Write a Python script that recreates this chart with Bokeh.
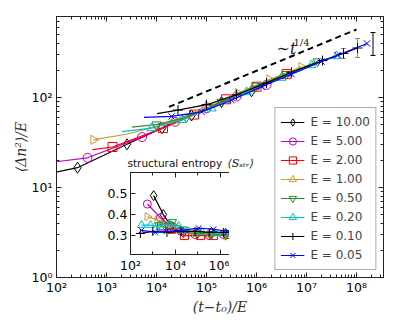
import numpy as np
from bokeh.plotting import figure
from bokeh.models import (ColumnDataSource, Legend, LegendItem, LogAxis, LinearAxis, Label,
                          Whisker, TeeHead, FixedTicker, LogTicker, CustomJSTickFormatter,
                          CDSView, IndexFilter)
from bokeh.layouts import column
from bokeh.embed import file_html
from bokeh.resources import INLINE

# ---------------- data (log10 values) ----------------
labels = ["E = 10.00", "E = 5.00", "E = 2.00", "E = 1.00", "E = 0.50", "E = 0.20", "E = 0.10", "E = 0.05"]

# main panel: log10((t-t0)/E) and log10(<dn^2>/E)
m_lgx = [
    [1.9, 2.42, 3.41, 4.11, 4.7, 5.3, 5.9],
    [1.9, 2.62, 3.71, 4.37, 5.0, 5.6, 6.2],
    [2.72, 3.12, 4.13, 4.75, 5.39, 6.0, 6.6],
    [2.74, 3.47, 4.37, 5.03, 5.63, 6.26, 6.9],
    [3.51, 4.0, 4.6, 5.3, 6.0, 6.6, 7.22],
    [3.31, 3.9, 4.5, 5.1, 5.8, 6.5, 7.1, 7.6],
    [4.01, 4.43, 5.0, 5.6, 6.2, 6.7, 7.32, 7.74, 8.02],
    [3.75, 4.3, 4.9, 5.5, 6.1, 6.7, 7.3, 7.62, 8.21],
]
m_lgy = [
    [1.16, 1.22, 1.48, 1.66, 1.80, 1.95, 2.07],
    [1.28, 1.33, 1.56, 1.73, 1.88, 2.01, 2.14],
    [1.42, 1.45, 1.66, 1.81, 1.98, 2.12, 2.26],
    [1.53, 1.60, 1.74, 1.91, 2.05, 2.20, 2.34],
    [1.67, 1.70, 1.78, 1.95, 2.13, 2.26, 2.40],
    [1.62, 1.66, 1.75, 1.88, 2.06, 2.22, 2.36, 2.46],
    [1.82, 1.86, 1.92, 2.03, 2.16, 2.28, 2.41, 2.49, 2.55],
    [1.78, 1.79, 1.84, 1.97, 2.12, 2.26, 2.40, 2.47, 2.60],
]
# which points carry a marker
m_mark = [
    [1, 2, 3, 4, 5, 6],
    [1, 2, 3, 4, 5, 6],
    [1, 2, 3, 4, 5, 6],
    [0, 2, 3, 4, 5, 6],
    [1, 2, 3, 4, 5, 6],
    [1, 2, 3, 4, 5, 6, 7],
    [1, 2, 3, 4, 5, 6, 7, 8],
    [1, 2, 3, 4, 5, 6, 7, 8],
]

# error bars (log10 x, log10 low, log10 high)
eb_gray_lgx = [7.74, 8.02]
eb_gray_lo = [2.433, 2.444]
eb_gray_hi = [2.544, 2.656]
eb_blk_lgx = [8.33]
eb_blk_lo = [2.467]
eb_blk_hi = [2.722]

# t^(1/4) guide
guide_lgx = [4.25, 8.0]
guide_lgy = [1.895, 2.756]

# inset: structural entropy (log10 of time, entropy)
i_lgx = [
    [3.03, 3.46, 3.88, 4.35, 4.98, 5.60, 6.23, 6.96],
    [2.75, 3.33, 3.72, 4.25, 4.87, 5.50, 6.13, 6.86],
    [3.38, 3.83, 4.40, 5.11, 5.69, 6.34, 6.93],
    [2.75, 3.20, 3.72, 4.25, 4.87, 5.50, 6.23, 6.86],
    [3.25, 3.87, 4.35, 4.98, 5.60, 6.23, 6.96],
    [2.49, 2.89, 3.31, 3.72, 4.14, 4.56, 5.19, 5.81, 6.44, 6.96],
    [2.44, 2.99, 3.62, 4.25, 4.87, 5.50, 6.13, 6.96],
    [2.49, 3.10, 3.60, 4.25, 5.03, 5.69, 6.34, 6.93],
]
i_y = [
    [0.49, 0.40, 0.335, 0.315, 0.31, 0.315, 0.31, 0.31],
    [0.45, 0.385, 0.35, 0.32, 0.305, 0.30, 0.305, 0.30],
    [0.345, 0.33, 0.30, 0.30, 0.30, 0.305, 0.30],
    [0.39, 0.375, 0.35, 0.33, 0.31, 0.305, 0.30, 0.30],
    [0.35, 0.365, 0.33, 0.31, 0.305, 0.30, 0.30],
    [0.35, 0.35, 0.34, 0.355, 0.345, 0.32, 0.315, 0.31, 0.31, 0.31],
    [0.31, 0.32, 0.315, 0.32, 0.32, 0.315, 0.315, 0.315],
    [0.325, 0.315, 0.32, 0.325, 0.335, 0.33, 0.32, 0.32],
]

# ---------------- styles ----------------
colors = ["#000000", "#c000c0", "#ff0000", "#cc9933", "#1f8f1f", "#00bfbf", "#000000", "#0000ff"]
mtypes = ["diamond", "circle", "square", "triangle", "inverted_triangle", "triangle", "cross", "x"]
angles = [0, 0, 0, -np.pi / 2, 0, 0, 0, 0]
msizes = [11, 9, 9, 9, 9, 9, 10, 9]

sup_js = """
const sup = {"-":"\u207b","0":"\u2070","1":"\u00b9","2":"\u00b2","3":"\u00b3","4":"\u2074","5":"\u2075","6":"\u2076","7":"\u2077","8":"\u2078","9":"\u2079"};
const e = Math.round(Math.log10(tick));
return "10" + String(e).split("").map(c => sup[c]).join("");
"""
blank_js = "return '';"

TICK_FONT = "DejaVu Sans"


def style_axis(ax, labels_on=True, size="12.5px"):
    ax.major_tick_in = 5
    ax.major_tick_out = 0
    ax.minor_tick_in = 3
    ax.minor_tick_out = 0
    ax.axis_line_color = "#222222"
    ax.major_tick_line_color = "#222222"
    ax.minor_tick_line_color = "#222222"
    ax.major_label_text_font = TICK_FONT
    ax.major_label_text_font_size = size
    ax.major_label_text_color = "#000000"
    if not labels_on:
        ax.major_label_standoff = 0


# ---------------- main figure ----------------
p = figure(width=399, height=327, x_axis_type="log", y_axis_type="log",
           x_range=(1e2, 10 ** 8.54), y_range=(1.0, 10 ** 2.9),
           output_backend="svg", toolbar_location=None,
           min_border_left=56, min_border_right=16, min_border_top=16, min_border_bottom=50)
p.xgrid.visible = False
p.ygrid.visible = False
p.outline_line_color = "#222222"
p.background_fill_color = "white"
p.border_fill_color = "white"

for ax in (p.xaxis[0], p.yaxis[0]):
    style_axis(ax)
    ax.ticker = LogTicker(num_minor_ticks=10)
    ax.formatter = CustomJSTickFormatter(code=sup_js)
p.xaxis[0].major_label_standoff = 2
p.yaxis[0].major_label_standoff = 4

p.xaxis.axis_label = "(t\u2212t\u2080)/E"
p.yaxis.axis_label = "\u27e8\u0394n\u00b2\u27e9/E"
for ax in (p.xaxis[0], p.yaxis[0]):
    ax.axis_label_text_font = "DejaVu Serif"
    ax.axis_label_text_font_style = "italic"
    ax.axis_label_text_font_size = "14px"
    ax.axis_label_text_color = "#333333"
p.xaxis[0].axis_label_standoff = 1
p.yaxis[0].axis_label_standoff = 0

top_ax = LogAxis(ticker=LogTicker(num_minor_ticks=10), formatter=CustomJSTickFormatter(code=blank_js))
right_ax = LogAxis(ticker=LogTicker(num_minor_ticks=10), formatter=CustomJSTickFormatter(code=blank_js))
style_axis(top_ax, labels_on=False)
style_axis(right_ax, labels_on=False)
p.add_layout(top_ax, "above")
p.add_layout(right_ax, "right")

# guide line
p.line(x=[10 ** v for v in guide_lgx], y=[10 ** v for v in guide_lgy],
       line_color="black", line_width=2, line_dash="6 4")

legend_items = []
for k in range(len(labels)):
    xs = [10 ** v for v in m_lgx[k]]
    ys = [10 ** v for v in m_lgy[k]]
    src = ColumnDataSource(data=dict(x=xs, y=ys))
    r_line = p.line("x", "y", source=src, line_color=colors[k], line_width=1.2)
    r_mk = p.scatter("x", "y", source=src, view=CDSView(filter=IndexFilter(m_mark[k])),
                     marker=mtypes[k], size=msizes[k], angle=angles[k],
                     line_color=colors[k], fill_alpha=0, line_width=1)
    legend_items.append(LegendItem(label=labels[k], renderers=[r_line, r_mk]))

# error bars
gsrc = ColumnDataSource(data=dict(x=[10 ** v for v in eb_gray_lgx],
                                  lo=[10 ** v for v in eb_gray_lo],
                                  hi=[10 ** v for v in eb_gray_hi]))
bsrc = ColumnDataSource(data=dict(x=[10 ** v for v in eb_blk_lgx],
                                  lo=[10 ** v for v in eb_blk_lo],
                                  hi=[10 ** v for v in eb_blk_hi]))
p.add_layout(Whisker(source=gsrc, base="x", lower="lo", upper="hi", dimension="height",
                     line_color="#888888", line_width=1,
                     upper_head=TeeHead(size=5, line_color="#888888"),
                     lower_head=TeeHead(size=5, line_color="#888888")))
p.add_layout(Whisker(source=bsrc, base="x", lower="lo", upper="hi", dimension="height",
                     line_color="#000000", line_width=1,
                     upper_head=TeeHead(size=5, line_color="#000000"),
                     lower_head=TeeHead(size=5, line_color="#000000")))

p.add_layout(Label(x=10 ** 6.4, y=10 ** 2.544, text="\u223ct", text_font="DejaVu Serif",
                   text_font_style="italic", text_font_size="16px", text_baseline="middle",
                   text_color="#222222"))
p.add_layout(Label(x=10 ** 6.74, y=10 ** 2.611, text="1/4", text_font="DejaVu Serif",
                   text_font_size="10px", text_baseline="middle", text_color="#222222"))

# inset title (drawn on the main canvas, above the inset frame)
p.add_layout(Label(x=10 ** 3.42, y=10 ** 1.267, text="structural entropy", text_font=TICK_FONT,
                   text_font_size="10.5px", text_baseline="middle", text_color="#111111"))
p.add_layout(Label(x=10 ** 5.42, y=10 ** 1.267, text="\u27e8S\u209b\u209c\u1d63\u27e9",
                   text_font="DejaVu Serif", text_font_style="italic",
                   text_font_size="11px", text_baseline="middle", text_color="#111111"))

legend = Legend(items=legend_items, location="bottom_right")
legend.label_text_font = TICK_FONT
legend.label_text_font_size = "12px"
legend.glyph_width = 24
legend.glyph_height = 18
legend.label_height = 18
legend.label_standoff = 6
legend.spacing = 1
legend.padding = 5
legend.margin = 7
legend.border_line_color = "#555555"
legend.border_line_width = 1
legend.background_fill_color = "white"
legend.background_fill_alpha = 1
p.add_layout(legend)

# ---------------- inset ----------------
ins = figure(frame_width=121, frame_height=82, x_axis_type="log",
             x_range=(1e2, 10 ** 7.38), y_range=(0.21, 0.6),
             output_backend="svg", toolbar_location=None,
             min_border_left=30, min_border_right=4, min_border_top=18, min_border_bottom=20,
             styles={"position": "absolute", "left": "74px", "top": "154px"})
ins.xgrid.visible = False
ins.ygrid.visible = False
ins.outline_line_color = "#222222"
ins.background_fill_color = "white"
ins.border_fill_alpha = 0

style_axis(ins.xaxis[0])
style_axis(ins.yaxis[0])
ins.xaxis[0].ticker = FixedTicker(ticks=[1e2, 1e4, 1e6], minor_ticks=[1e3, 1e5, 1e7])
ins.xaxis[0].formatter = CustomJSTickFormatter(code=sup_js)
ins.yaxis[0].ticker = FixedTicker(ticks=[0.3, 0.4, 0.5], minor_ticks=[])
ins.xaxis[0].major_label_standoff = 3
ins.yaxis[0].major_label_standoff = 3

itop = LogAxis(ticker=FixedTicker(ticks=[1e2, 1e4, 1e6], minor_ticks=[1e3, 1e5, 1e7]),
               formatter=CustomJSTickFormatter(code=blank_js))
iright = LinearAxis(ticker=FixedTicker(ticks=[0.3, 0.4, 0.5], minor_ticks=[]),
                    formatter=CustomJSTickFormatter(code=blank_js))
style_axis(itop, labels_on=False)
style_axis(iright, labels_on=False)
ins.add_layout(itop, "above")
ins.add_layout(iright, "right")

for k in range(len(labels)):
    xs = [10 ** v for v in i_lgx[k]]
    src = ColumnDataSource(data=dict(x=xs, y=i_y[k]))
    ins.line("x", "y", source=src, line_color=colors[k], line_width=1.2)
    ins.scatter("x", "y", source=src, marker=mtypes[k], size=msizes[k] - 1, angle=angles[k],
                line_color=colors[k], fill_alpha=0, line_width=1)

root = column(p, ins, styles={"position": "relative"})
open("out.html", "w").write(file_html(root, INLINE))
